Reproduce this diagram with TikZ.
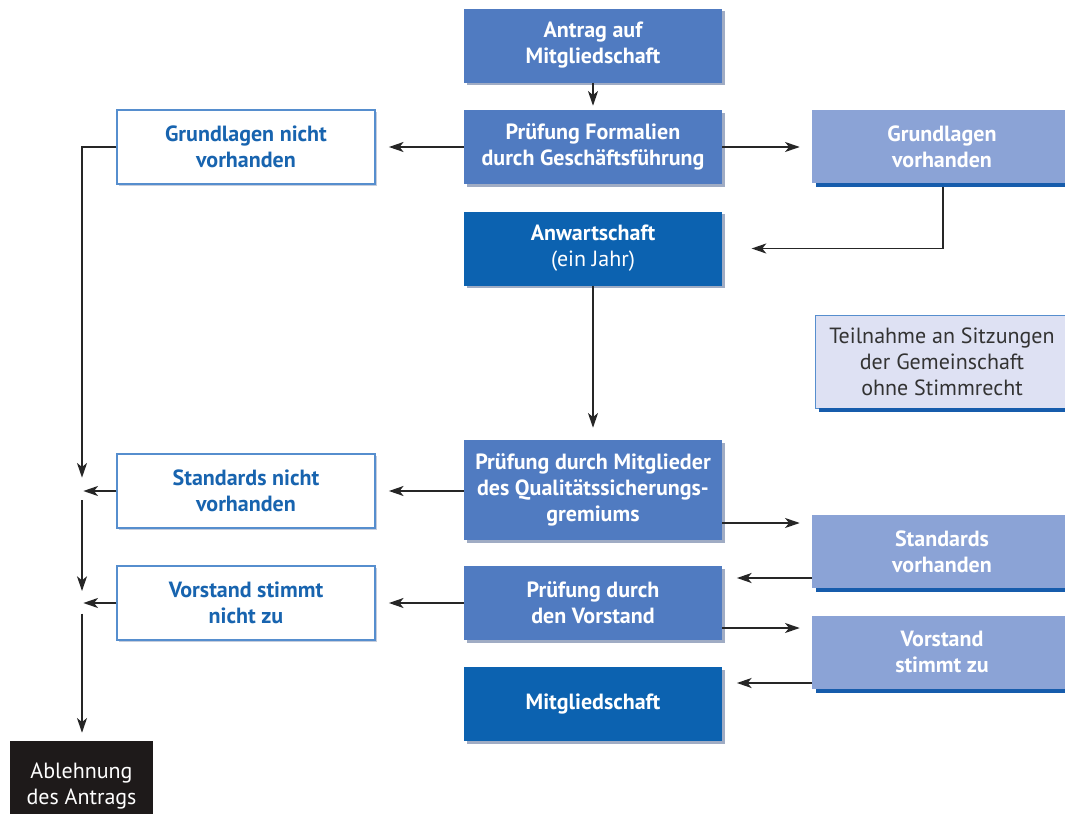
\documentclass[tikz,border=0pt]{standalone}
\usepackage{fontspec}
\setmainfont{PT Sans}
\usetikzlibrary{arrows.meta,calc,shadows}
\definecolor{medblue}{RGB}{80,123,193}
\definecolor{darkblue}{RGB}{12,98,176}
\definecolor{lightblue}{RGB}{139,163,214}
\definecolor{barblue}{RGB}{22,92,172}
\definecolor{edgeblue}{RGB}{86,142,206}
\definecolor{txtblue}{RGB}{24,100,175}
\definecolor{paleblue}{RGB}{222,225,243}
\definecolor{blackbox}{RGB}{30,26,26}
\definecolor{shadowc}{RGB}{160,172,196}
\begin{document}
\begin{tikzpicture}[x=0.75pt,y=-0.75pt,
  base/.style={rectangle,align=center,inner sep=2pt,
    font=\fontsize{16.5pt}{19.5pt}\selectfont,
    minimum width=193.5pt,minimum height=55.5pt},
  midbox/.style={base,fill=medblue,text=white,font=\fontsize{16.5pt}{19.5pt}\selectfont\bfseries,
    general shadow={fill=shadowc,shadow xshift=2pt,shadow yshift=-2pt}},
  darkbox/.style={base,fill=darkblue,text=white,font=\fontsize{16.5pt}{19.5pt}\selectfont\bfseries,
    general shadow={fill=shadowc,shadow xshift=2pt,shadow yshift=-2pt}},
  nobox/.style={base,fill=white,draw=edgeblue,line width=0.8pt,text=txtblue,font=\fontsize{16.5pt}{19.5pt}\selectfont\bfseries,
    general shadow={fill=shadowc!60,shadow xshift=1.5pt,shadow yshift=-1.5pt}},
  yesbox/.style={base,fill=lightblue,text=white,font=\fontsize{16.5pt}{19.5pt}\selectfont\bfseries,
    minimum width=195pt,minimum height=54.75pt},
  infobox/.style={base,fill=paleblue,draw=edgeblue,line width=0.6pt,text=black!80,
    minimum width=190pt,minimum height=69.75pt},
  rejbox/.style={base,fill=blackbox,text=white,minimum width=107.25pt,minimum height=67.5pt},
  arr/.style={draw=black!85,line width=1.4pt,-{Stealth[length=11pt,width=7.5pt,inset=3pt]}},
  ln/.style={draw=black!85,line width=1.4pt}
]
\useasboundingbox (0,0) rectangle (1065,814);

% boxes
\node[midbox] (af) at (593,45.5) {Antrag auf\\Mitgliedschaft};
\node[midbox] (pf) at (593,147) {Prüfung Formalien\\durch Geschäftsführung};
\node[nobox] (gn) at (246,147) {Grundlagen nicht\\vorhanden};
\node[yesbox] (gv) at (942,146.5) {Grundlagen\\vorhanden};
\node[darkbox] (aw) at (593,248.5) {Anwartschaft\\\mdseries(ein Jahr)};
\node[infobox] (tn) at (942,361.5) {Teilnahme an Sitzungen\\der Gemeinschaft\\ohne Stimmrecht};
\node[midbox,minimum height=75pt] (pm) at (593,490) {Prüfung durch Mitglieder\\des Qualitätssicherungs-\\gremiums};
\node[nobox] (sn) at (246,491) {Standards nicht\\vorhanden};
\node[yesbox] (sv) at (942,551.5) {Standards\\vorhanden};
\node[nobox] (vn) at (246,603) {Vorstand stimmt\\nicht zu};
\node[midbox] (pv) at (593,603) {Prüfung durch\\den Vorstand};
\node[yesbox] (vz) at (942,652) {Vorstand\\stimmt zu};
\node[darkbox] (mg) at (593,704) {Mitgliedschaft};
\node[rejbox] (ab) at (81.5,786) {Ablehnung\\des Antrags};

% bottom bars of right boxes
\foreach \b in {gv,sv,vz,tn}{
  \fill[barblue] ([xshift=3pt]\b.south west) rectangle ([yshift=-3pt]\b.south east);
}

% junction coordinates
\coordinate (k1) at (82,491);
\coordinate (k2) at (82,603);
\coordinate (c1) at ($(pm.east)+(0,33)$);
\coordinate (c2) at ($(sv.west)+(0,26.5)$);
\coordinate (c3) at ($(pv.east)+(0,25)$);
\coordinate (c4) at ($(vz.west)+(0,31)$);

% connectors
\draw[arr,shorten >=3pt] (af.south) -- (pf.north);
\draw[arr,shorten >=10pt] (pf.west) -- (pf.west -| gn.east);
\draw[arr,shorten >=9pt] (pf.east) -- (pf.east -| gv.west);
\draw[arr,shorten >=22pt] ([xshift=1pt,yshift=-3pt]gv.south) |- (aw.east);
\draw[arr,shorten >=9pt] (aw.south) -- (pm.north);
\draw[arr,shorten >=10pt] (sn.east -| pm.west) -- (sn.east);
\draw[arr,shorten >=9pt] (c1) -- (c1 -| sv.west);
\draw[arr,shorten >=11pt] (c2) -- (c2 -| pv.east);
\draw[arr,shorten >=10pt] (pv.west) -- (vn.east);
\draw[arr,shorten >=9pt] (c3) -- (c3 -| vz.west);
\draw[arr,shorten >=11pt] (c4) -- (c4 -| mg.east);
\draw[arr,shorten >=10pt] (gn.west) -| (k1);
\draw[arr,shorten >=1pt] (sn.west) -- (k1);
\draw[arr,shorten <=7pt,shorten >=9pt] (k1) -- (k2);
\draw[arr,shorten >=1pt] (vn.west) -- (k2);
\draw[arr,shorten <=8pt,shorten >=6pt] (k2) -- (k2 |- ab.north);
\end{tikzpicture}
\end{document}
